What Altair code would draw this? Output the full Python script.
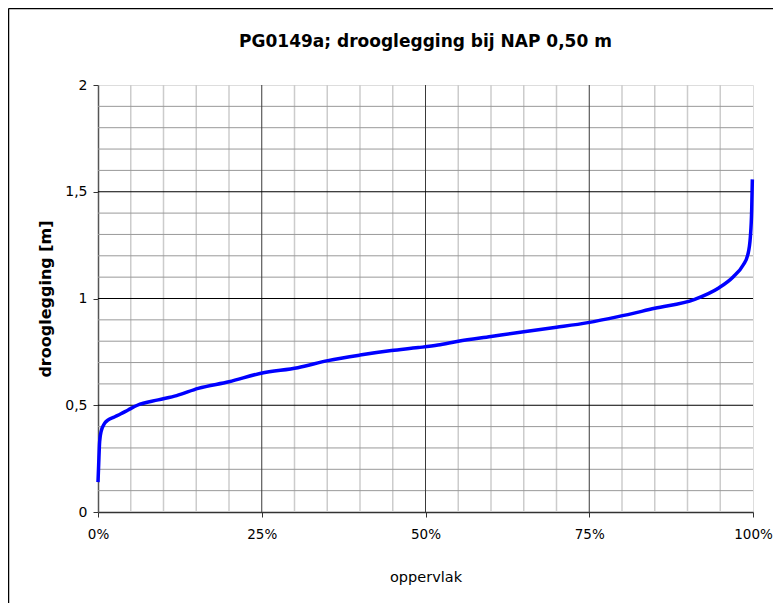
import altair as alt
import pandas as pd

# ---- data ----
oppervlak_pct = [0, 0.1, 0.25, 0.5, 1.0, 1.5, 2.5, 3.5, 4.6, 6, 9.2, 12, 15.3, 20,
                 24.9, 30.5, 35.1, 40, 44.8, 48.9, 51.9, 55, 60, 65, 70, 74.8,
                 79.4, 85, 91.1, 94.7, 97.0, 98.5, 99.2, 99.6, 99.8, 99.9]
drooglegging = [0.14, 0.22, 0.33, 0.38, 0.415, 0.43, 0.445, 0.46, 0.478, 0.50,
                0.525, 0.545, 0.579, 0.61, 0.650, 0.676, 0.709, 0.735, 0.756,
                0.770, 0.782, 0.80, 0.822, 0.844, 0.865, 0.887, 0.915, 0.954,
                0.996, 1.048, 1.102, 1.157, 1.204, 1.29, 1.414, 1.558]

x_ticks = [0, 25, 50, 75, 100]
y_ticks = [0, 0.5, 1, 1.5, 2]
x_minor = [5, 10, 15, 20, 30, 35, 40, 45, 55, 60, 65, 70, 80, 85, 90, 95]
y_minor = [0.1, 0.2, 0.3, 0.4, 0.6, 0.7, 0.8, 0.9, 1.1, 1.2, 1.3, 1.4, 1.6, 1.7, 1.8, 1.9]
x_major_grid = [25, 50, 75]
y_major_grid = [0.5, 1, 1.5]

title_text = "PG0149a; drooglegging bij NAP 0,50 m"
x_title = "oppervlak"
y_title = "drooglegging [m]"

FONT = "DejaVu Sans"
W, H = 655, 427
PAD_L, PAD_T, PAD_R, PAD_B = 90, 77, 20, 91

xscale = alt.Scale(domain=[0, 100], nice=False, zero=False)
yscale = alt.Scale(domain=[0, 2], nice=False, zero=False)

x_axis = alt.Axis(values=x_ticks, labelExpr="datum.value + '%'",
                  title=x_title, grid=False, domainColor="#333333",
                  domainWidth=1.5, tickColor="#333333", tickSize=5,
                  labelFont=FONT, labelFontSize=13.5, labelColor="#000000",
                  labelPadding=10, labelFlush=False, labelOverlap=False,
                  titleFont=FONT, titleFontSize=14.5,
                  titleFontWeight="normal", titleColor="#000000",
                  titlePadding=30)
y_axis = alt.Axis(values=y_ticks,
                  labelExpr="replace(format(datum.value, '~g'), '.', ',')",
                  title=y_title, grid=False, domainColor="#555555",
                  domainWidth=1.5, tickColor="#333333", tickSize=5,
                  labelFont=FONT, labelFontSize=14, labelColor="#000000",
                  labelPadding=6, labelFlush=False, labelOverlap=False,
                  titleFont=FONT, titleFontSize=16,
                  titleFontWeight="bold", titleColor="#000000",
                  titlePadding=11)

curve = pd.DataFrame({"x": oppervlak_pct, "y": drooglegging})
one = pd.DataFrame({"a": [0]})

line = alt.Chart(curve).mark_line(
    color="#0000ff", strokeWidth=3.5, interpolate="monotone"
).encode(
    x=alt.X("x:Q", scale=xscale, axis=x_axis),
    y=alt.Y("y:Q", scale=yscale, axis=y_axis),
    order=alt.Order("x:Q"),
)

vminor = alt.Chart(pd.DataFrame({"x": x_minor})).mark_rule(
    color="#cccccc", strokeWidth=1.5
).encode(x=alt.X("x:Q", scale=xscale, axis=x_axis))

hminor = alt.Chart(pd.DataFrame({"y": y_minor})).mark_rule(
    color="#999999", strokeWidth=1
).encode(y=alt.Y("y:Q", scale=yscale, axis=y_axis))

vmajor = alt.Chart(pd.DataFrame({"x": x_major_grid})).mark_rule(
    color="#3a3a3a", strokeWidth=1
).encode(x=alt.X("x:Q", scale=xscale, axis=x_axis))

hmajor = alt.Chart(pd.DataFrame({"y": y_major_grid})).mark_rule(
    color="#000000", strokeWidth=1
).encode(y=alt.Y("y:Q", scale=yscale, axis=y_axis))

title_mark = alt.Chart(one).mark_text(
    text=title_text, font=FONT, fontSize=17, fontWeight="bold",
    color="#000000", align="center", baseline="middle"
).encode(x=alt.value(W / 2), y=alt.value(-43))

frame_top = alt.Chart(one).mark_rule(color="#000000", strokeWidth=1.5).encode(
    x=alt.value(0.5 - PAD_L), x2=alt.value(W + PAD_R), y=alt.value(0.5 - PAD_T))
frame_left = alt.Chart(one).mark_rule(color="#000000", strokeWidth=1.5).encode(
    x=alt.value(0.5 - PAD_L), y=alt.value(0.5 - PAD_T), y2=alt.value(H + PAD_B))

chart = alt.layer(
    vminor, hminor, vmajor, hmajor, line, title_mark, frame_top, frame_left
).properties(
    width=W, height=H,
    autosize=alt.AutoSizeParams(type="none"),
    padding={"left": PAD_L, "top": PAD_T, "right": PAD_R, "bottom": PAD_B},
).configure_view(stroke="#8a8a8a", strokeWidth=1.5).configure(background="#ffffff")

chart.save("out.html", embed_options={"renderer": "svg", "actions": False})
